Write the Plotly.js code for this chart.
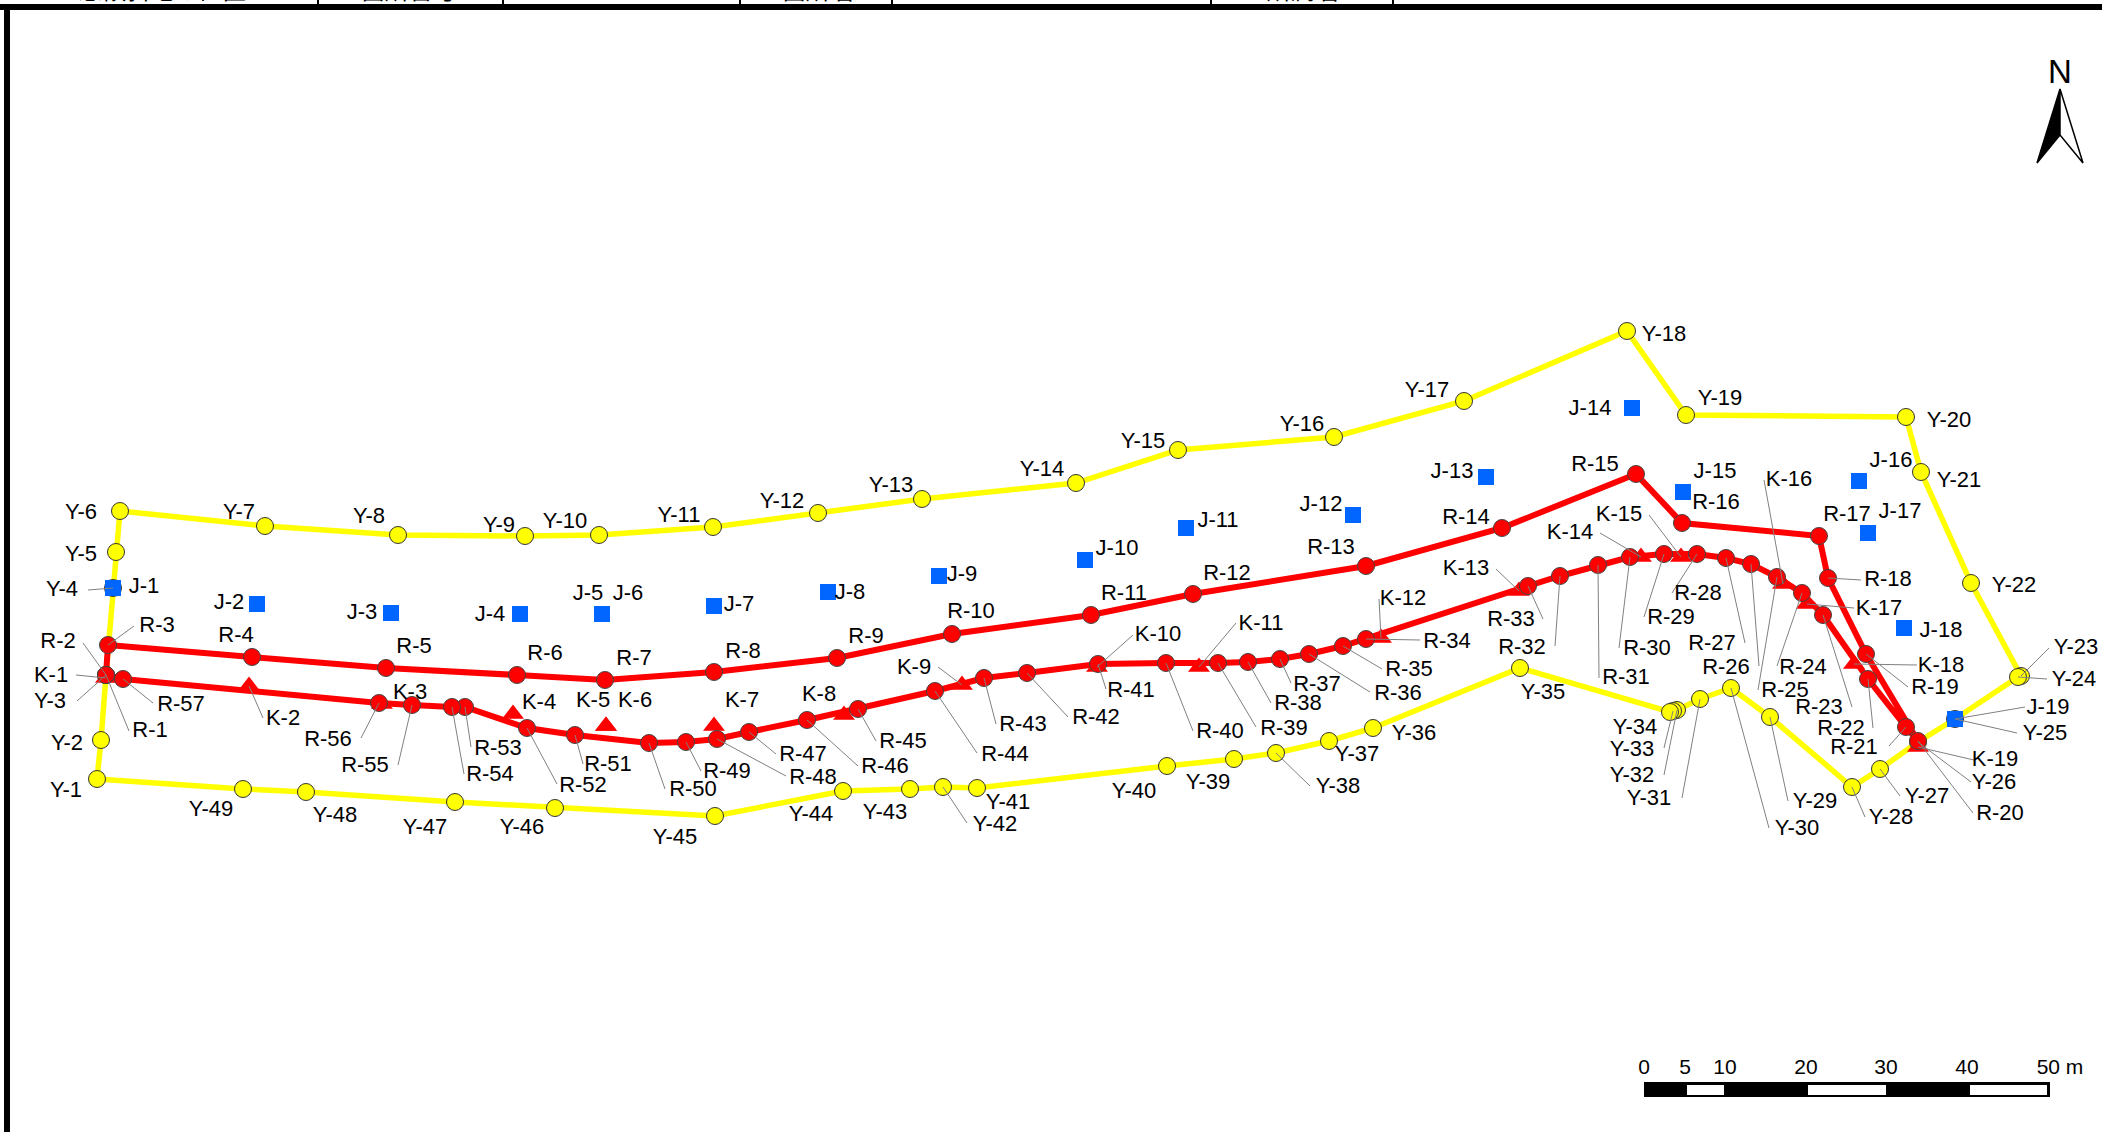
<!DOCTYPE html>
<html>
<head>
<meta charset="utf-8">
<script src="https://cdn.plot.ly/plotly-3.0.1.min.js"></script>
<style>html,body{margin:0;padding:0;background:#fff;overflow:hidden}</style>
</head>
<body>
<div id="chart" style="width:2102px;height:1132px"></div>
<script>
// Survey points, in drawing units of the plan
const redNames = ["R-1","R-2","R-3","R-4","R-5","R-6","R-7","R-8","R-9","R-10","R-11","R-12","R-13","R-14","R-15","R-16","R-17","R-18","R-19","R-20","R-21","R-22","R-23","R-24","R-25","R-26","R-27","R-28","R-29","R-30","R-31","R-32","R-33","R-34","R-35","R-36","R-37","R-38","R-39","R-40","R-41","R-42","R-43","R-44","R-45","R-46","R-47","R-48","R-49","R-50","R-51","R-52","R-53","R-54","R-55","R-56","R-57"];
const redX = [106,106,108,252,386,517,605,714,837,952,1091,1193,1366,1502,1636,1682,1819,1828,1866,1918,1906,1868,1823,1802,1777,1751,1726,1697,1664,1630,1598,1560,1528,1366,1343,1309,1280,1248,1218,1166,1098,1027,984,935,858,807,749,717,686,649,575,527,465,452,412,379,123];
const redY = [675,675,645,657,668,675,680,672,658,634,615,594,566,528,474,523,536,578,654,741,727,679,615,593,577,564,558,554,554,557,565,576,586,639,646,654,659,662,663,663,664,673,678,691,709,720,732,739,742,743,735,728,707,707,705,703,679];

const yellowNames = ["Y-1","Y-2","Y-3","Y-4","Y-5","Y-6","Y-7","Y-8","Y-9","Y-10","Y-11","Y-12","Y-13","Y-14","Y-15","Y-16","Y-17","Y-18","Y-19","Y-20","Y-21","Y-22","Y-23","Y-24","Y-25","Y-26","Y-27","Y-28","Y-29","Y-30","Y-31","Y-32","Y-33","Y-34","Y-35","Y-36","Y-37","Y-38","Y-39","Y-40","Y-41","Y-42","Y-43","Y-44","Y-45","Y-46","Y-47","Y-48","Y-49"];
const yellowX = [97,101,106,113,116,120,265,398,525,599,713,818,922,1076,1178,1334,1464,1627,1686,1906,1921,1971,2021,2018,1955,1918,1880,1852,1770,1731,1700,1677,1673,1670,1520,1373,1329,1276,1234,1167,977,943,910,843,715,555,455,306,243];
const yellowY = [779,740,675,588,552,511,526,535,536,535,527,513,499,483,450,437,401,331,415,417,472,583,676,677,719,742,769,787,717,688,699,710,711,712,668,728,741,753,759,766,788,787,789,791,816,808,802,792,789];

const blueNames = ["J-1","J-2","J-3","J-4","J-5","J-6","J-7","J-8","J-9","J-10","J-11","J-12","J-13","J-14","J-15","J-16","J-17","J-18","J-19"];
const blueX = [113,257,391,520,602,602,714,828,939,1085,1186,1353,1486,1632,1683,1859,1868,1904,1955];
const blueY = [588,604,613,614,614,614,606,592,576,560,528,515,477,408,492,481,533,628,719];

const triNames = ["K-1","K-2","K-3","K-4","K-5","K-6","K-7","K-8","K-9","K-10","K-11","K-12","K-13","K-14","K-15","K-16","K-17","K-18","K-19"];
const triX = [106,249,382,513,606,606,714,844,962,1097,1199,1381,1519,1641,1681,1783,1807,1854,1918];
const triY = [678,686,704,714,726,726,726,715,685,667,667,638,591,557,557,584,604,664,747];

// Label text and its place
const labelNames = ["Y-1","Y-2","Y-3","Y-4","Y-5","Y-6","Y-7","Y-8","Y-9","Y-10","Y-11","Y-12","Y-13","Y-14","Y-15","Y-16","Y-17","Y-18","Y-19","Y-20","Y-21","Y-22","Y-23","Y-24","Y-25","Y-26","Y-27","Y-28","Y-29","Y-30","Y-31","Y-32","Y-33","Y-34","Y-35","Y-36","Y-37","Y-38","Y-39","Y-40","Y-41","Y-42","Y-43","Y-44","Y-45","Y-46","Y-47","Y-48","Y-49",
"R-1","R-2","R-3","R-4","R-5","R-6","R-7","R-8","R-9","R-10","R-11","R-12","R-13","R-14","R-15","R-16","R-17","R-18","R-19","R-20","R-21","R-22","R-23","R-24","R-25","R-26","R-27","R-28","R-29","R-30","R-31","R-32","R-33","R-34","R-35","R-36","R-37","R-38","R-39","R-40","R-41","R-42","R-43","R-44","R-45","R-46","R-47","R-48","R-49","R-50","R-51","R-52","R-53","R-54","R-55","R-56","R-57",
"J-1","J-2","J-3","J-4","J-5","J-6","J-7","J-8","J-9","J-10","J-11","J-12","J-13","J-14","J-15","J-16","J-17","J-18","J-19",
"K-1","K-2","K-3","K-4","K-5","K-6","K-7","K-8","K-9","K-10","K-11","K-12","K-13","K-14","K-15","K-16","K-17","K-18","K-19"];
const labelX = [66,67,50,62,81,81,239,369,499,565,679,782,891,1042,1143,1302,1427,1664,1720,1949,1959,2014,2076,2074,2045,1994,1927,1891,1815,1797,1649,1632,1632,1635,1543,1414,1357,1338,1208,1134,1008,995,885,811,675,522,425,335,211,
150,58,157,236,414,545,634,743,866,971,1124,1227,1331,1466,1595,1716,1847,1888,1935,2000,1854,1841,1819,1803,1785,1726,1712,1698,1671,1647,1626,1522,1511,1447,1409,1398,1317,1298,1284,1220,1131,1096,1023,1005,903,885,803,813,727,693,608,583,498,490,365,328,181,
144,229,362,490,588,628,739,850,962,1117,1218,1321,1452,1590,1715,1891,1900,1941,2048,
51,283,410,539,593,635,742,819,914,1158,1261,1403,1466,1570,1619,1789,1879,1941,1995];
const labelY = [791,744,702,590,555,513,513,517,526,522,516,502,486,470,442,425,391,335,399,421,481,586,648,680,734,783,797,818,802,829,799,776,750,728,693,734,755,787,783,792,803,825,813,815,838,828,828,816,810,
731,642,626,636,647,654,659,652,637,612,594,574,548,518,465,503,515,580,688,814,748,729,708,668,691,668,644,594,618,649,678,648,620,642,670,694,685,704,729,732,691,718,725,755,742,767,755,778,772,790,765,786,749,775,766,740,705,
587,603,613,615,594,594,605,593,575,549,521,505,472,409,472,461,512,631,708,
676,719,693,703,701,701,701,695,668,635,624,599,569,533,515,480,609,666,760];

// Leader lines: label end, drawn to the named point
const leaderNames = ["Y-4","R-3","R-2","K-1","Y-3","R-1","R-57","K-2","R-56","R-55","R-54","R-53","R-52","R-51","R-50","R-49","R-48","R-47","R-46","R-45","R-44","K-9","R-43","R-42","R-41","K-10","R-40","K-11","R-39","R-38","R-37","R-36","R-35","R-34","K-12","Y-38","Y-42","K-13","R-33","R-32","R-31","R-30","R-29","R-28","K-14","K-15","R-27","R-26","R-25","K-16","R-24","R-23","R-22","R-21","K-17","K-18","R-19","R-18","Y-23","Y-24","J-19","Y-25","K-19","Y-26","R-20","Y-27","Y-28","Y-29","Y-30","Y-31","Y-32","Y-33"];
const leaderFromX = [88,134,83,76,77,129,153,263,361,398,464,471,557,583,665,701,786,776,858,876,977,938,996,1068,1106,1133,1193,1236,1256,1271,1291,1370,1382,1420,1379,1310,967,1496,1543,1555,1599,1619,1644,1672,1600,1649,1745,1759,1758,1764,1777,1852,1873,1889,1854,1917,1908,1861,2049,2047,2025,2017,1974,1971,1973,1900,1865,1788,1769,1682,1664,1664];
const leaderFromY = [590,626,643,675,701,731,703,718,738,765,774,747,784,764,789,771,776,754,766,741,753,667,724,717,689,635,731,623,727,703,683,692,669,640,599,786,823,569,619,646,678,648,617,593,533,515,643,666,690,480,666,707,728,746,608,665,687,580,648,679,707,733,760,782,813,796,817,801,828,798,775,748];

// Scale bar
const scaleLabels = ["0","5","10","20","30","40","50 m"];
const scaleLabelX = [1644,1685,1725,1806,1886,1967,2060];
const scaleLabelY = [1069,1069,1069,1069,1069,1069,1069];

// Header of the form, cut off by the top of the page
const headerText = ["急傾斜地の位置","箇所番号","箇所名","所属名"];
const headerX = [162,409,818,1303];
const headerY = [-7,-7,-7,-7];
const headerTicks = [318,503,740,892,1211,1393];

const closed = a => a.concat([a[0]]);
const pos = {};
[[redNames,redX,redY],[yellowNames,yellowX,yellowY],[blueNames,blueX,blueY],[triNames,triX,triY]].forEach(([n,x,y]) => {
  n.forEach((k,i) => { pos[k] = [x[i], y[i]]; });
});
const leadX = [], leadY = [];
leaderNames.forEach((k,i) => {
  leadX.push(leaderFromX[i], pos[k][0], null);
  leadY.push(leaderFromY[i], pos[k][1], null);
});

const LABEL_FONT = {family:'"Liberation Sans", Arial, sans-serif', size:22, color:'#000'};
const traces = [
  {x:closed(yellowX), y:closed(yellowY), mode:'lines', line:{color:'#ffff00', width:5.5}},
  {x:closed(redX), y:closed(redY), mode:'lines', line:{color:'#ff0000', width:6}},
  {x:yellowX, y:yellowY, mode:'markers', marker:{symbol:'circle', size:17, color:'#ffff00', line:{color:'#333', width:1}}},
  {x:triX, y:triY, mode:'markers', marker:{symbol:'triangle-up', size:19, color:'#ff0000', line:{width:0}}},
  {x:redX, y:redY, mode:'markers', marker:{symbol:'circle', size:17, color:'#ff0000', line:{color:'#444', width:1}}},
  {x:blueX, y:blueY, mode:'markers', marker:{symbol:'square', size:16, color:'#0066ff', line:{width:0}}},
  {x:leadX, y:leadY, mode:'lines', line:{color:'#808080', width:1}},
  {x:labelX, y:labelY, text:labelNames, mode:'text', textposition:'middle center', textfont:LABEL_FONT},
  {x:scaleLabelX, y:scaleLabelY, text:scaleLabels, mode:'text', textposition:'middle center', textfont:{family:'"Liberation Sans", Arial, sans-serif', size:21, color:'#000'}},
  {x:[2060], y:[75], text:['N'], mode:'text', textposition:'middle center', textfont:{family:'"Liberation Sans", Arial, sans-serif', size:33, color:'#000'}},
  {x:headerX, y:headerY, text:headerText, mode:'text', textposition:'middle center', cliponaxis:true, textfont:{family:'"Noto Sans CJK JP", sans-serif', size:24, color:'#000'}}
];

const rect = (x0,y0,x1,y1,fill,line) => ({type:'rect', xref:'x', yref:'y', x0, y0, x1, y1, fillcolor:fill, line:line || {width:0}, layer:'above'});
const shapes = [
  rect(0,4,2102,10,'#000'),
  rect(4,4,10,1132,'#000'),
  rect(1644,1082,2050,1097,'#000'),
  rect(1687,1085,1724,1095,'#fff'),
  rect(1808,1085,1886,1095,'#fff'),
  rect(1970,1085,2047,1095,'#fff'),
  {type:'path', xref:'x', yref:'y', path:'M2060,89 L2037,163 L2060,135 Z', fillcolor:'#000', line:{color:'#000', width:1.5}},
  {type:'path', xref:'x', yref:'y', path:'M2060,89 L2083,163 L2060,135 Z', fillcolor:'#fff', line:{color:'#000', width:1.5}}
];
headerTicks.forEach(t => shapes.push(rect(t-1,0,t+1,4,'#000')));

const axis = {visible:false, fixedrange:true, showgrid:false, zeroline:false};
Plotly.newPlot('chart', traces, {
  width:2102, height:1132,
  margin:{l:0, r:0, t:0, b:0},
  paper_bgcolor:'#fff', plot_bgcolor:'#fff',
  showlegend:false, hovermode:false,
  xaxis:Object.assign({range:[0,2102]}, axis),
  yaxis:Object.assign({range:[1132,0]}, axis),
  shapes:shapes
}, {displayModeBar:false, staticPlot:true});
</script>
</body>
</html>
